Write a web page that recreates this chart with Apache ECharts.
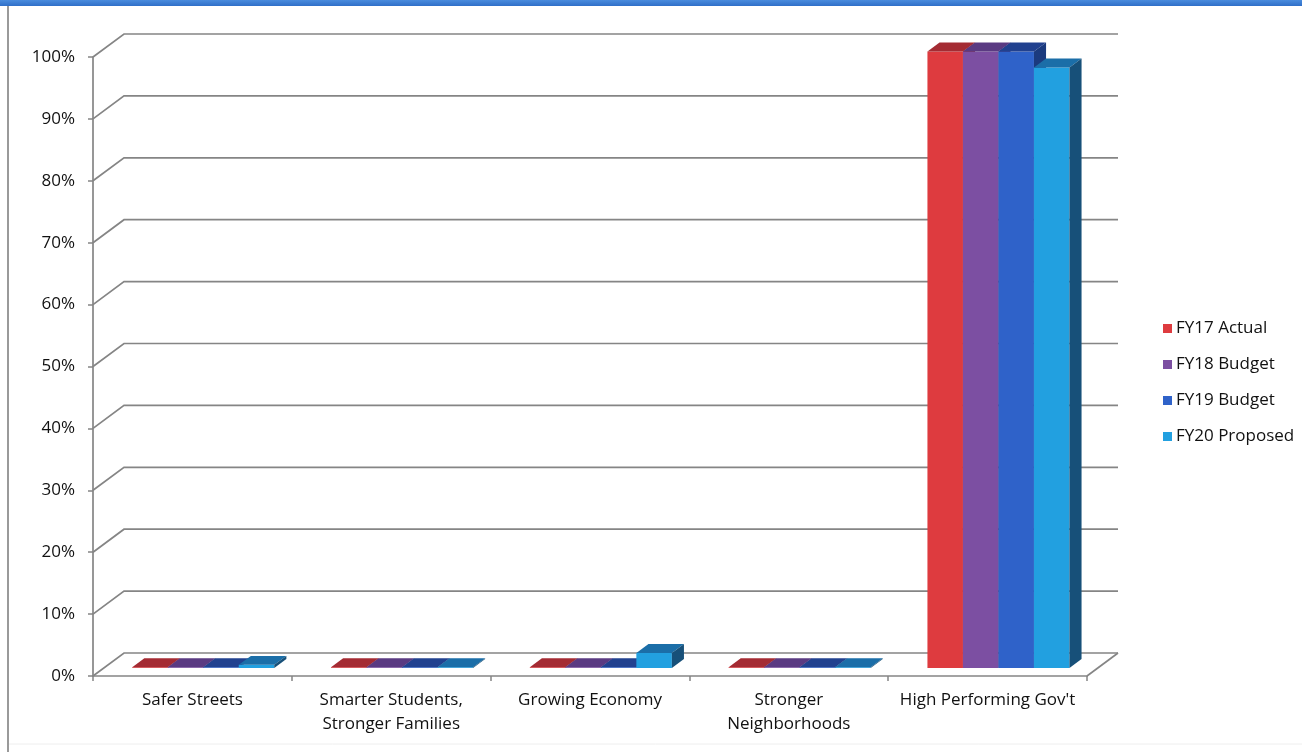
<!DOCTYPE html>
<html>
<head>
<meta charset="utf-8">
<script src="https://cdn.jsdelivr.net/npm/echarts@6/dist/echarts.min.js"></script>
<style>
  html, body { margin: 0; padding: 0; background: #fff; }
  #chart { width: 1302px; height: 752px; }
</style>
</head>
<body>
<div id="chart"></div>
<script>
// Share of each budget by priority area
const categories = ['Safer Streets', 'Smarter Students,\nStronger Families', 'Growing Economy', 'Stronger\nNeighborhoods', "High Performing Gov't"];
const seriesNames = ['FY17 Actual', 'FY18 Budget', 'FY19 Budget', 'FY20 Proposed'];
const fy17Actual   = [0.1, 0.1, 0.1, 0.1, 99.6];
const fy18Budget   = [0.1, 0.1, 0.1, 0.1, 99.6];
const fy19Budget   = [0.1, 0.1, 0.1, 0.1, 99.6];
const fy20Proposed = [0.5, 0.1, 2.4, 0.1, 97.0];
const yTicks = [0, 10, 20, 30, 40, 50, 60, 70, 80, 90, 100];

const seriesValues = [fy17Actual, fy18Budget, fy19Budget, fy20Proposed];

// Face colours per series: front, top, side
const faces = [
  { front: '#DE3B3F', top: '#A42B33', side: '#8E2229' },
  { front: '#7C4FA2', top: '#5A3A82', side: '#4B2F6E' },
  { front: '#2F62C9', top: '#21418F', side: '#1B3A7E' },
  { front: '#22A0E0', top: '#1B6EA8', side: '#175079' }
];

// Oblique projection of the depth axis
const DEPTH_X = 31, DEPTH_Y = -23;
const FRONT = 0.35, THICK = 0.39;
const BAR_SHARE = 0.1786;
const GRID_COLOR = '#858585';

function gridRenderer(params, api) {
  const cs = params.coordSys;
  const v = api.value(1);
  const y = api.coord([0, v])[1];
  const xl = cs.x, xr = cs.x + cs.width;
  const children = [{
    type: 'polyline',
    shape: { points: [[xl, y], [xl + DEPTH_X, y + DEPTH_Y], [xr + DEPTH_X, y + DEPTH_Y]] },
    style: { stroke: GRID_COLOR, lineWidth: 1.7, fill: null }
  }];
  if (v === 0) {
    children.push({
      type: 'line',
      shape: { x1: xr, y1: y, x2: xr + DEPTH_X, y2: y + DEPTH_Y },
      style: { stroke: GRID_COLOR, lineWidth: 1.7 }
    });
  }
  return { type: 'group', children };
}

function barRenderer(k) {
  const f = faces[k];
  return function (params, api) {
    const c = api.value(0), v = api.value(1);
    const p0 = api.coord([c, 0]);
    const p1 = api.coord([c, v]);
    const band = api.size([1, 0])[0];
    const w = band * BAR_SHARE;
    const fx = DEPTH_X * FRONT, fy = DEPTH_Y * FRONT;
    const dx = DEPTH_X * THICK, dy = DEPTH_Y * THICK;
    const left = p0[0] - 2 * w + k * w + fx;
    const right = left + w;
    const bottom = p0[1] + fy;
    const top = p1[1] + fy;
    return {
      type: 'group',
      children: [
        { type: 'polygon', shape: { points: [[left, bottom], [right, bottom], [right, top], [left, top]] },
          style: { fill: f.front } },
        { type: 'polygon', shape: { points: [[left, top], [right, top], [right + dx, top + dy], [left + dx, top + dy]] },
          style: { fill: f.top } },
        { type: 'polygon', shape: { points: [[right, bottom], [right + dx, bottom + dy], [right + dx, top + dy], [right, top]] },
          style: { fill: f.side } }
      ]
    };
  };
}

const chart = echarts.init(document.getElementById('chart'), null, { renderer: 'canvas' });

const TEXT_FONT = 'Open Sans';
const TEXT_COLOR = '#111';

const series = [{
  type: 'custom',
  name: 'grid',
  silent: true,
  z: 1,
  renderItem: gridRenderer,
  encode: { x: 0, y: 1 },
  data: yTicks.map(t => [0, t])
}];
seriesValues.forEach((vals, k) => {
  series.push({
    type: 'custom',
    name: seriesNames[k],
    z: 2 + k,
    renderItem: barRenderer(k),
    encode: { x: 0, y: 1 },
    itemStyle: { color: faces[k].front },
    data: vals.map((v, i) => [i, v])
  });
});

chart.setOption({
  animation: false,
  backgroundColor: '#ffffff',
  grid: { left: 93, right: 215, top: 57, bottom: 76, containLabel: false },
  xAxis: {
    type: 'category',
    data: categories,
    boundaryGap: true,
    axisLine: { show: true, lineStyle: { color: GRID_COLOR, width: 1.7 } },
    axisTick: { show: true, length: 5, lineStyle: { color: GRID_COLOR, width: 1.5 } },
    axisLabel: { color: TEXT_COLOR, fontFamily: TEXT_FONT, fontSize: 17, lineHeight: 24, margin: 12, interval: 0 },
    splitLine: { show: false }
  },
  yAxis: {
    type: 'value',
    min: 0, max: 100, interval: 10,
    axisLine: { show: true, lineStyle: { color: GRID_COLOR, width: 1.7 } },
    axisTick: { show: true, length: 5, lineStyle: { color: GRID_COLOR, width: 1.5 } },
    axisLabel: { color: TEXT_COLOR, fontFamily: TEXT_FONT, fontSize: 17, margin: 18, formatter: '{value}%' },
    splitLine: { show: false }
  },
  legend: {
    data: seriesNames,
    orient: 'vertical',
    left: 1158,
    top: 315,
    icon: 'rect',
    itemWidth: 9,
    itemHeight: 9,
    itemGap: 19,
    textStyle: { color: TEXT_COLOR, fontFamily: TEXT_FONT, fontSize: 17, padding: [0, 0, 0, -1] }
  },
  graphic: [
    { type: 'rect', silent: true, shape: { x: 0, y: 0, width: 1302, height: 6 },
      style: { fill: new echarts.graphic.LinearGradient(0, 0, 0, 1, [
        { offset: 0, color: '#4A8CDD' }, { offset: 1, color: '#2F6FC8' }]) } },
    { type: 'line', silent: true, shape: { x1: 8, y1: 6, x2: 8, y2: 752 },
      style: { stroke: '#9a9a9a', lineWidth: 2 } },
    { type: 'line', silent: true, shape: { x1: 9, y1: 744, x2: 1302, y2: 744 },
      style: { stroke: '#eeeeee', lineWidth: 1 } }
  ],
  series
});
</script>
</body>
</html>
